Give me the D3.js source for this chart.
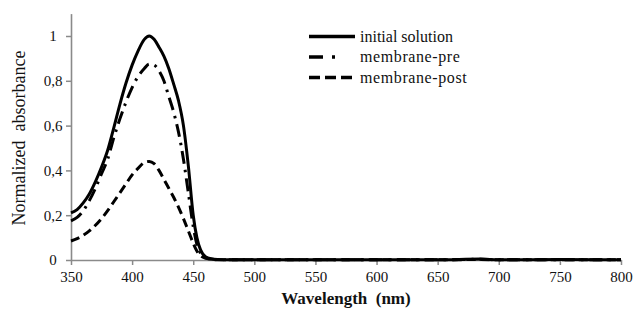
<!DOCTYPE html>
<html>
<head>
<meta charset="utf-8">
<script src="https://cdn.jsdelivr.net/npm/d3@7"></script>
<style>
  html, body { margin: 0; padding: 0; background: #fff; }
  svg text { font-family: 'Liberation Serif', 'Times New Roman', 'DejaVu Serif', serif; fill: #111; }
</style>
</head>
<body>
<div id="chart"></div>
<script>
// Datos (absorbancia normalizada vs longitud de onda)
const wavelength = [350, 355, 360, 365, 370, 375, 380, 385, 390, 395, 400, 405, 410, 414, 418, 422, 426, 430, 434, 438, 442, 446, 450, 453, 456, 460, 465, 470, 480, 500, 550, 600, 650, 685, 700, 750, 800];

const initialSolution = [0.21, 0.225, 0.255, 0.295, 0.35, 0.415, 0.49, 0.59, 0.695, 0.79, 0.87, 0.935, 0.985, 1.0, 0.985, 0.95, 0.91, 0.855, 0.785, 0.71, 0.6, 0.42, 0.2, 0.1, 0.045, 0.015, 0.005, 0.002, 0.001, 0.001, 0.001, 0.001, 0.001, 0.004, 0.001, 0.002, 0.001];
const membranePre = [0.175, 0.19, 0.22, 0.265, 0.32, 0.385, 0.45, 0.545, 0.63, 0.705, 0.77, 0.82, 0.855, 0.875, 0.87, 0.845, 0.8, 0.73, 0.66, 0.57, 0.45, 0.3, 0.15, 0.07, 0.03, 0.01, 0.004, 0.002, 0.001, 0.001, 0.001, 0.001, 0.001, 0.003, 0.001, 0.001, 0.001];
const membranePost = [0.085, 0.095, 0.11, 0.13, 0.155, 0.185, 0.22, 0.26, 0.3, 0.34, 0.38, 0.41, 0.435, 0.44, 0.43, 0.4, 0.36, 0.32, 0.28, 0.235, 0.185, 0.13, 0.075, 0.04, 0.02, 0.008, 0.003, 0.001, 0.001, 0.001, 0.001, 0.001, 0.001, 0.002, 0.001, 0.001, 0.001];

const seriesNames = ["initial solution", "membrane-pre", "membrane-post"];
const xTicks = [350, 400, 450, 500, 550, 600, 650, 700, 750, 800];
const yTicks = [0, 0.2, 0.4, 0.6, 0.8, 1];

const width = 634, height = 309;
const serif = "'Liberation Serif', 'Times New Roman', 'DejaVu Serif', serif";

const svg = d3.select("#chart").append("svg")
  .attr("width", width)
  .attr("height", height);

const x = d3.scaleLinear().domain([350, 800]).range([71, 621]);
const y = d3.scaleLinear().domain([0, 1.1]).range([260, 13.6]);

// estilos de cada serie
const dashes = [null, "13,6,2.5,6", "9,5"];
const legendDashes = [null, "14,9,3,40", "11,5"];

const series = [initialSolution, membranePre, membranePost].map((vals, i) => ({
  name: seriesNames[i],
  dash: dashes[i],
  values: wavelength.map((w, j) => ({ w, v: vals[j] }))
}));

const axisColor = "#8a8a8a";

// Eje X
const xAxis = svg.append("g")
  .attr("transform", `translate(0,${y(0)})`)
  .call(d3.axisBottom(x).tickValues(xTicks).tickSize(5).tickSizeOuter(0).tickFormat(d3.format("d")));
xAxis.attr("font-family", serif);
xAxis.select(".domain").attr("stroke", axisColor).attr("stroke-width", 1.6);
xAxis.selectAll(".tick line").attr("stroke", axisColor).attr("stroke-width", 1.5);
xAxis.selectAll(".tick text")
  .attr("y", 11)
  .attr("font-size", 15)
  .attr("fill", "#111");

// Eje Y
const yAxis = svg.append("g")
  .attr("transform", `translate(${x(350)},0)`)
  .call(d3.axisLeft(y).tickValues(yTicks).tickSize(5).tickSizeOuter(0)
    .tickFormat(d => d === 0 || d === 1 ? String(d) : d3.format(".1f")(d).replace(".", ",")));
yAxis.attr("font-family", serif);
yAxis.select(".domain").attr("stroke", axisColor).attr("stroke-width", 1.6);
yAxis.selectAll(".tick line").attr("stroke", axisColor).attr("stroke-width", 1.5);
yAxis.selectAll(".tick text")
  .attr("x", -18)
  .attr("text-anchor", "middle")
  .attr("font-size", 15)
  .attr("fill", "#111");

// Curvas
const line = d3.line()
  .x(d => x(d.w))
  .y(d => y(d.v))
  .curve(d3.curveMonotoneX);

svg.append("g")
  .attr("fill", "none")
  .attr("stroke", "#000")
  .attr("stroke-width", 3)
  .selectAll("path")
  .data(series)
  .join("path")
  .attr("stroke-dasharray", d => d.dash)
  .attr("d", d => line(d.values));

// Titulos de ejes
svg.append("text")
  .attr("x", 346)
  .attr("y", 304)
  .attr("text-anchor", "middle")
  .attr("font-size", 17)
  .attr("font-weight", "bold")
  .style("white-space", "pre")
  .text("Wavelength  (nm)");

svg.append("text")
  .attr("transform", "translate(25,138) rotate(-90)")
  .attr("text-anchor", "middle")
  .attr("font-size", 18)
  .style("white-space", "pre")
  .text("Normalized  absorbance");

// Leyenda
const legend = svg.append("g")
  .selectAll("g")
  .data(series)
  .join("g")
  .attr("transform", (d, i) => `translate(309,${36.5 + i * 20.5})`);

legend.append("line")
  .attr("x1", 0)
  .attr("x2", 46)
  .attr("stroke", "#000")
  .attr("stroke-width", 3.5)
  .attr("stroke-dasharray", (d, i) => legendDashes[i]);

legend.append("text")
  .attr("x", 51)
  .attr("y", 5)
  .attr("font-size", 16)
  .attr("letter-spacing", (d, i) => i === 0 ? 0 : 0.6)
  .text(d => d.name);
</script>
</body>
</html>
